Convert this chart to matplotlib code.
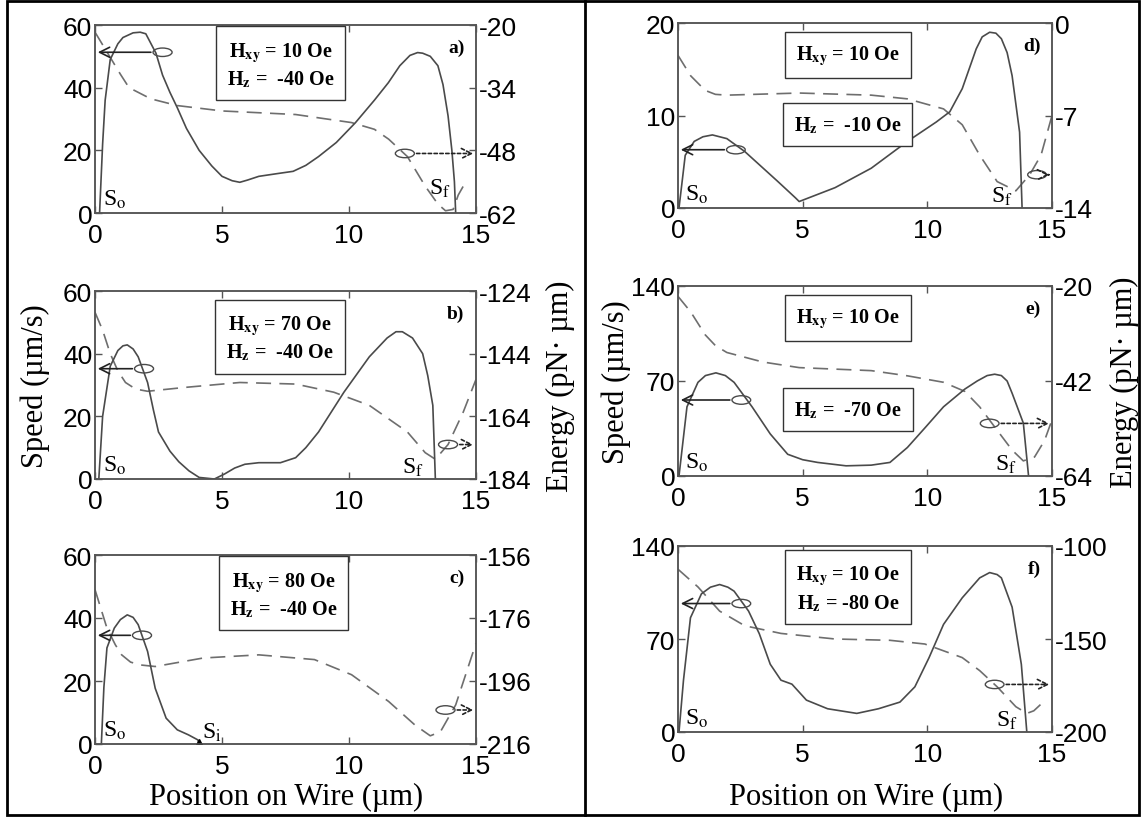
import matplotlib
matplotlib.use("Agg")
import matplotlib.pyplot as plt
from matplotlib.patches import Ellipse, Rectangle
from matplotlib.lines import Line2D

plt.rcParams['axes.unicode_minus'] = False
plt.rcParams['mathtext.fontset'] = 'stix'

# ---------------- data ----------------
# panel a  (Hxy=10, Hz=-40)
xa_s = [0.18, 0.3, 0.4, 0.6, 0.9, 1.1, 1.5, 1.78, 2.0, 2.4, 2.66, 2.95, 3.24, 3.6, 4.1, 4.6, 5.0, 5.4, 5.7, 6.0, 6.45, 7.2, 7.8, 8.3, 8.8, 9.5, 10.25, 11.0, 11.55, 12.0, 12.4, 12.7, 12.9, 13.2, 13.5, 13.7, 13.9, 14.05, 14.15, 14.2]
ya_s = [0, 22, 36, 49, 54, 56, 57.5, 57.7, 57.2, 51, 44, 38.5, 33.6, 27, 20, 15, 11.7, 10.3, 9.8, 10.5, 11.7, 12.6, 13.3, 15.2, 18, 22.5, 28.8, 36, 41.6, 47, 50.3, 51.2, 51, 50, 47, 41, 31, 20, 10, 0]
xa_e = [0, 0.5, 1.0, 1.34, 2.2, 3.24, 5.0, 7.9, 10.1, 11.0, 11.56, 12.3, 13.0, 13.5, 13.8, 14.1, 14.3, 14.6]
ea = [-21.6, -26.3, -31, -34, -36.5, -38, -39.2, -40, -41.8, -43.3, -45.5, -49.4, -56, -60, -61.5, -61.2, -58, -55]

# panel b  (Hxy=70, Hz=-40)
xb_s = [0.15, 0.3, 0.6, 0.9, 1.1, 1.27, 1.5, 1.7, 2.07, 2.3, 2.5, 2.95, 3.3, 3.7, 4.1, 4.7, 5.1, 5.5, 5.9, 6.45, 7.3, 7.9, 8.3, 8.8, 9.8, 10.8, 11.5, 11.85, 12.1, 12.5, 12.9, 13.1, 13.3, 13.4]
yb_s = [0, 20, 36, 41, 42.5, 42.8, 41.5, 39, 30.8, 22, 15, 8.9, 5.5, 2.6, 0.5, 0, 1.6, 3.5, 4.7, 5.2, 5.2, 6.8, 10, 15, 27.7, 39, 45, 47, 47, 45, 40, 33, 23.5, 0]
xb_e = [0, 0.3, 0.6, 0.9, 1.2, 1.6, 2.07, 3.5, 5.7, 7.9, 9.4, 10.8, 12.3, 13.0, 13.4, 13.9, 14.5, 15]
eb = [-130.8, -136.5, -144, -149.5, -153.2, -155.3, -156, -154.8, -153.2, -153.7, -156.3, -160.5, -169, -175.6, -177.7, -173, -162.6, -152.2]

# panel c  (Hxy=80, Hz=-40)
xc_s = [0.25, 0.35, 0.47, 0.76, 1.0, 1.27, 1.5, 1.7, 2.07, 2.37, 2.8, 3.24, 3.68, 4.05, 4.1]
yc_s = [0, 18, 30.5, 36.8, 39.5, 41, 40.2, 37.9, 29.4, 17.7, 8.2, 4.5, 2.9, 1.3, 0]
xc_e = [0, 0.47, 0.8, 1.05, 1.4, 1.78, 2.37, 4.26, 6.45, 8.64, 10.1, 11.56, 12.6, 13.2, 13.6, 14.2, 15]
ec = [-167, -179.2, -184.5, -187.7, -190, -190.9, -191.4, -188.7, -187.7, -189.2, -194, -202.5, -210, -213.4, -212.1, -203.6, -184]

# panel d  (Hxy=10, Hz=-10)
xd_s = [0.04, 0.15, 0.29, 0.65, 1.0, 1.38, 1.96, 2.68, 3.99, 4.71, 4.86, 6.3, 7.75, 9.2, 10.36, 10.9, 11.4, 11.96, 12.2, 12.5, 12.75, 12.97, 13.2, 13.4, 13.7, 13.8]
yd_s = [0, 2.5, 5.7, 7.2, 7.7, 7.9, 7.5, 6.1, 2.9, 1.1, 0.7, 2.2, 4.3, 7.2, 9.3, 10.4, 12.9, 17.2, 18.5, 19, 18.9, 18.3, 16.8, 14.3, 8.2, 0]
xd_e = [0, 0.51, 1.09, 1.5, 1.96, 4.86, 7.75, 9.2, 10.65, 11.4, 12.1, 12.8, 13.55, 14.1, 14.56, 15]
ed = [-2.45, -4.0, -5.1, -5.4, -5.46, -5.3, -5.46, -5.74, -6.5, -7.7, -10, -12, -12.7, -11.5, -10, -7]

# panel e  (Hxy=10, Hz=-70)
xe_s = [0.04, 0.14, 0.36, 0.8, 1.1, 1.52, 1.9, 2.25, 2.97, 3.7, 4.4, 5.0, 5.6, 6.74, 7.75, 8.5, 9.2, 9.93, 10.65, 11.5, 12.0, 12.4, 12.7, 12.97, 13.2, 13.4, 13.85, 14.06]
ye_s = [0, 16, 51, 69, 74, 76, 74, 69, 51, 31, 16, 12, 10, 7.5, 8, 10, 21, 36, 51, 64, 70, 74, 75, 74, 70, 61, 39, 0]
xe_e = [0, 0.51, 1.09, 1.5, 1.96, 3.4, 4.86, 7.75, 9.2, 10.65, 11.5, 12.1, 12.8, 13.4, 13.85, 14.3, 14.7, 15]
ee = [-22.4, -26, -31.3, -33.8, -35.4, -37.6, -38.9, -39.6, -40.8, -42.3, -44.4, -48, -53.4, -58, -60.5, -59.6, -55.8, -51]

# panel f  (Hxy=10, Hz=-80)
xf_s = [0.04, 0.22, 0.5, 0.94, 1.3, 1.67, 2.0, 2.25, 2.83, 3.26, 3.7, 4.13, 4.57, 5.15, 6.0, 7.17, 8.04, 8.9, 9.5, 10.07, 10.65, 11.4, 12.1, 12.5, 12.8, 12.97, 13.4, 13.77, 13.99]
yf_s = [0, 39, 86, 104, 109, 111, 109, 106, 91, 74, 51, 39, 36, 24, 17.5, 14, 17.5, 22.5, 34, 56, 81, 101, 116, 120, 118.5, 116, 94, 51, 0]
xf_e = [0, 0.8, 1.67, 2.68, 4.13, 6.3, 8.5, 9.9, 11.4, 12.1, 12.8, 13.55, 13.99, 14.27, 14.56]
ef = [-112.5, -122, -135, -142.9, -147, -150, -150.7, -152.7, -160, -167, -175.7, -186.4, -190, -188.6, -185]

x_ticks = [0, 5, 10, 15]
speed_ticks = {'a': [0, 20, 40, 60], 'b': [0, 20, 40, 60], 'c': [0, 20, 40, 60],
               'd': [0, 10, 20], 'e': [0, 70, 140], 'f': [0, 70, 140]}
energy_ticks = {'a': [-62, -48, -34, -20], 'b': [-184, -164, -144, -124], 'c': [-216, -196, -176, -156],
                'd': [-14, -7, 0], 'e': [-64, -42, -20], 'f': [-200, -150, -100]}
field_text = {'a': ["H$_{\\mathbf{xy}}$ = 10 Oe\nH$_{\\mathbf{z}}$ =  -40 Oe"],
              'b': ["H$_{\\mathbf{xy}}$ = 70 Oe\nH$_{\\mathbf{z}}$ =  -40 Oe"],
              'c': ["H$_{\\mathbf{xy}}$ = 80 Oe\nH$_{\\mathbf{z}}$ =  -40 Oe"],
              'd': ["H$_{\\mathbf{xy}}$ = 10 Oe", "H$_{\\mathbf{z}}$ =  -10 Oe"],
              'e': ["H$_{\\mathbf{xy}}$ = 10 Oe", "H$_{\\mathbf{z}}$ =  -70 Oe"],
              'f': ["H$_{\\mathbf{xy}}$ = 10 Oe\nH$_{\\mathbf{z}}$ = -80 Oe"]}

panels = {
    'a': (xa_s, ya_s, xa_e, ea),
    'b': (xb_s, yb_s, xb_e, eb),
    'c': (xc_s, yc_s, xc_e, ec),
    'd': (xd_s, yd_s, xd_e, ed),
    'e': (xe_s, ye_s, xe_e, ee),
    'f': (xf_s, yf_s, xf_e, ef),
}

# ---------------- layout / style ----------------
W, H = 1148, 820
def rect(x0, x1, y0, y1):
    return [x0 / W, 1 - y1 / H, (x1 - x0) / W, (y1 - y0) / H]

pos = {'a': rect(95, 476, 26, 214), 'b': rect(95, 476, 292, 480), 'c': rect(95, 476, 556, 745),
       'd': rect(678, 1052, 24, 209), 'e': rect(678, 1052, 287, 477), 'f': rect(678, 1052, 547, 733)}

box_pos = {'a': [(0.487, 0.79)], 'b': [(0.485, 0.75)], 'c': [(0.495, 0.79)],
           'd': [(0.455, 0.825), (0.453, 0.45)], 'e': [(0.454, 0.83), (0.454, 0.35)],
           'f': [(0.454, 0.773)]}
left_arrow = {'a': (2.66, 51.3), 'b': (1.93, 35.2), 'c': (1.85, 34.5), 'd': (2.32, 6.3),
              'e': (2.54, 56), 'f': (2.54, 96.7)}
right_arrow = {'a': (12.2, 19), 'b': (13.9, 11), 'c': (13.8, 10.8), 'd': (14.4, 3.6),
               'e': (12.5, 38.75), 'f': (12.7, 35.8)}
s_labels = {'a': [("S$_\\mathrm{o}$", 0.3, 0.01), ("S$_\\mathrm{f}$", 13.15, 0.07)],
            'b': [("S$_\\mathrm{o}$", 0.3, 0.01), ("S$_\\mathrm{f}$", 12.1, 0.0)],
            'c': [("S$_\\mathrm{o}$", 0.3, 0.01), ("S$_\\mathrm{i}$", 4.2, 0.0)],
            'd': [("S$_\\mathrm{o}$", 0.3, 0.01), ("S$_\\mathrm{f}$", 12.55, 0.0)],
            'e': [("S$_\\mathrm{o}$", 0.3, 0.01), ("S$_\\mathrm{f}$", 12.7, 0.0)],
            'f': [("S$_\\mathrm{o}$", 0.3, 0.01), ("S$_\\mathrm{f}$", 12.75, 0.0)]}

SANS = 'Liberation Sans'
SERIF = 'Liberation Serif'
axc = '#555555'
linec = '#4a4a4a'
dashc = '#6e6e6e'

fig = plt.figure(figsize=(W / 100, H / 100), dpi=100)

for key, (xs, ys, xe, ee_) in panels.items():
    ax = fig.add_axes(pos[key])
    ax2 = ax.twinx()
    ymax = speed_ticks[key][-1]
    ax.set_xlim(0, 15)
    ax.set_ylim(0, ymax)
    ax2.set_ylim(energy_ticks[key][0], energy_ticks[key][-1])
    ax.set_xticks(x_ticks)
    ax.set_yticks(speed_ticks[key])
    ax2.set_yticks(energy_ticks[key])
    ax.plot(xs, ys, color=linec, lw=1.2, solid_joinstyle='round')
    ax2.plot(xe, ee_, color=dashc, lw=1.2, dashes=(9, 5))
    for a in (ax, ax2):
        for sp in a.spines.values():
            sp.set_color(axc)
            sp.set_linewidth(1.1)
        a.tick_params(direction='in', length=5, width=1, color=axc, labelsize=19, pad=2)
        for lab in a.get_xticklabels() + a.get_yticklabels():
            lab.set_fontfamily(SANS)
    ax.tick_params(axis='x', top=True, pad=7)
    ax.set_zorder(ax2.get_zorder() + 1)
    ax.patch.set_visible(False)

    for txt, (bx, by) in zip(field_text[key], box_pos[key]):
        ax.text(bx, by, txt, transform=ax.transAxes, ha='center', va='center',
                fontsize=14.5, fontweight='bold', family=SERIF, linespacing=1.3,
                bbox=dict(boxstyle='square,pad=0.55', fc='white', ec='#333333', lw=1.0))
    ax.text(0.97, 0.88, key + ')', transform=ax.transAxes, ha='right', va='center',
            fontsize=14, fontweight='bold', family=SERIF)
    for t, sx, sy in s_labels[key]:
        ax.text(sx, sy * ymax + 0.005 * ymax, t, ha='left', va='bottom', fontsize=17, family=SERIF)
    if key == 'c':
        ax.plot([4.1], [0.6], marker='^', color='black', ms=4)
    lx, ly = left_arrow[key]
    ax.add_patch(Ellipse((lx, ly), 0.75, ymax * 0.045, fill=False, ec=linec, lw=1.0))
    ax.annotate('', xy=(0.0, ly), xytext=(lx - 0.35, ly),
                arrowprops=dict(arrowstyle='->', color='#222222', lw=1.2, mutation_scale=18))
    rx, ry = right_arrow[key]
    ax.add_patch(Ellipse((rx, ry), 0.75, ymax * 0.045, fill=False, ec=linec, lw=1.0))
    ax.annotate('', xy=(15.0, ry), xytext=(rx + 0.35, ry),
                arrowprops=dict(arrowstyle='->', color='#222222', lw=1.2, ls=(0, (2, 1.5)),
                                mutation_scale=18))

lab_kw = dict(fontsize=22, family=SERIF, rotation=90, ha='center', va='center')
fig.text(35 / W, 1 - 386 / H, 'Speed (µm/s)', **lab_kw)
fig.text(560 / W, 1 - 386 / H, 'Energy (pN· µm)', **lab_kw)
fig.text(616 / W, 1 - 382 / H, 'Speed (µm/s)', **lab_kw)
fig.text(1124 / W, 1 - 382 / H, 'Energy (pN· µm)', **lab_kw)
fig.text(286 / W, 1 - 797 / H, 'Position on Wire (µm)', fontsize=22, family=SERIF, ha='center', va='center')
fig.text(866 / W, 1 - 797 / H, 'Position on Wire (µm)', fontsize=22, family=SERIF, ha='center', va='center')

fig.add_artist(Rectangle((7 / W, 1 - 816 / H), (1139 - 7) / W, (816 - 2) / H, transform=fig.transFigure,
                         fill=False, ec='black', lw=2.0))
fig.add_artist(Line2D([585 / W, 585 / W], [1 - 816 / H, 1 - 2 / H], transform=fig.transFigure,
                      color='black', lw=2.0))

fig.savefig('out.png', dpi=100)
